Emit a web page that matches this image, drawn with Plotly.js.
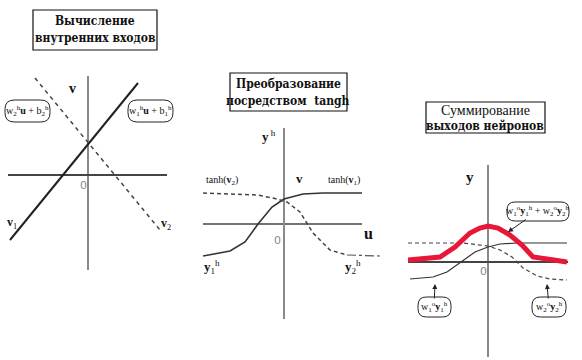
<!DOCTYPE html>
<html>
<head>
<meta charset="utf-8">
<script src="https://cdn.plot.ly/plotly-3.0.1.min.js"></script>
<style>html,body{margin:0;padding:0;background:#fff;}#chart{width:582px;height:360px;}</style>
</head>
<body>
<div id="chart"></div>
<script>
// ---- Panel 1: inner inputs (straight lines) ----
var p1_v1_u = [-3.9, 2.5];
var p1_v1_v = [-3.25, 4.6];
var p1_v2_u = [-2.65, 3.6];
var p1_v2_v = [4.85, -2.75];

// ---- Panel 2: tanh transform ----
var p2_y1_u = [-4.05, -2.7, -1.95, -1.3, -0.6, 0, 0.95, 1.95, 3.9];
var p2_y1_v = [-1.6, -1.35, -0.9, 0, 0.85, 1.25, 1.5, 1.55, 1.55];
var p2_y2_u = [-4.05, -1.35, -0.55, 0.15, 0.8, 1.45, 2.3, 3.15];
var p2_y2_v = [1.55, 1.45, 1.3, 1.1, 0.6, -0.45, -1.3, -1.55];
var p2_tail_u = [3.15, 4.8];
var p2_tail_v = [-1.55, -1.6];

// ---- Panel 3: sum of neuron outputs ----
var p3_sum_u = [-4, -2.4, -1.65, -0.9, -0.4, 0, 0.5, 1.1, 1.7, 2.25, 2.95, 3.95];
var p3_sum_v = [0.1, 0.25, 0.75, 1.45, 1.7, 1.8, 1.7, 1.35, 0.85, 0.25, 0.15, 0];
var p3_a_u = [-3.9, -2.75, -2.05, -1.3, -0.65, 0, 0.6, 1.45, 3.95];
var p3_a_v = [-0.85, -0.75, -0.5, 0.05, 0.5, 0.75, 0.9, 0.95, 0.95];
var p3_b_u = [-4, -1.25, 0, 0.6, 1.2, 1.75, 2.45, 3.1, 3.95];
var p3_b_v = [0.95, 0.95, 0.8, 0.6, 0.25, -0.3, -0.7, -0.85, -0.9];

// ---- Text ----
var titles = [
  ["Вычисление", "внутренних входов"],
  ["Преобразование", "посредством  tangh"],
  ["Суммирование", "выходов нейронов"]
];
var titleWeights = [[700, 700], [700, 700], [400, 700]];

var W = 582, H = 360;
function PX(x){ return x / W; }
function PY(y){ return 1 - y / H; }
var SERIF = "Liberation Serif";
var TITLEFONT = "DejaVu Serif Condensed, DejaVu Serif";

function pill(x0, y0, x1, y1){
  var r = (y1 - y0) * 0.42;
  function p(x, y){ return PX(x).toFixed(5) + "," + PY(y).toFixed(5); }
  var d = "M" + p(x0 + r, y0) + " L" + p(x1 - r, y0) + " Q" + p(x1, y0) + " " + p(x1, y0 + r) +
          " L" + p(x1, y1 - r) + " Q" + p(x1, y1) + " " + p(x1 - r, y1) +
          " L" + p(x0 + r, y1) + " Q" + p(x0, y1) + " " + p(x0, y1 - r) +
          " L" + p(x0, y0 + r) + " Q" + p(x0, y0) + " " + p(x0 + r, y0) + " Z";
  return {type: "path", xref: "paper", yref: "paper", path: d, line: {color: "#222", width: 1}};
}
function rectP(x0, y0, x1, y1){
  return {type: "rect", xref: "paper", yref: "paper", x0: PX(x0), x1: PX(x1), y0: PY(y1), y1: PY(y0),
          line: {color: "#111", width: 1.2}};
}

var traces = [
  {x: p1_v1_u, y: p1_v1_v, xaxis: "x", yaxis: "y", mode: "lines", line: {color: "#222", width: 2}},
  {x: p1_v2_u, y: p1_v2_v, xaxis: "x", yaxis: "y", mode: "lines", line: {color: "#444", width: 1.5, dash: "4px,4px"}},
  {x: p2_y1_u, y: p2_y1_v, xaxis: "x2", yaxis: "y2", mode: "lines", line: {color: "#333", width: 1.6}},
  {x: p2_y2_u, y: p2_y2_v, xaxis: "x2", yaxis: "y2", mode: "lines", line: {color: "#444", width: 1.5, dash: "4px,3px"}},
  {x: p2_tail_u, y: p2_tail_v, xaxis: "x2", yaxis: "y2", mode: "lines", line: {color: "#555", width: 1.2, dash: "dashdot"}},
  {x: p3_a_u, y: p3_a_v, xaxis: "x3", yaxis: "y3", mode: "lines", line: {color: "#333", width: 1.2}},
  {x: p3_b_u, y: p3_b_v, xaxis: "x3", yaxis: "y3", mode: "lines", line: {color: "#444", width: 1.2, dash: "4px,3px"}},
  {x: p3_sum_u, y: p3_sum_v, xaxis: "x3", yaxis: "y3", mode: "lines", line: {color: "#e8173a", width: 5}}
];

function xax(px0, px1, r){
  return {domain: [PX(px0), PX(px1)], range: r, showgrid: false, showticklabels: false, ticks: "",
          showline: false, zeroline: true, zerolinecolor: "#8a8a8a", zerolinewidth: 1.5, fixedrange: true};
}
function yax(py0, py1, r, anchor, zl){
  return {domain: [PY(py1), PY(py0)], range: r, showgrid: false, showticklabels: false, ticks: "",
          showline: false, zeroline: zl, zerolinecolor: "#444", zerolinewidth: 1.5, fixedrange: true, anchor: anchor};
}

var shapes = [
  rectP(33, 10, 157, 50), rectP(230, 73, 347, 111), rectP(426, 102, 545, 133),
  pill(5, 100, 50, 122), pill(128, 100, 173, 122),
  pill(507, 202, 569, 221), pill(418, 297, 451, 317), pill(532, 297, 566, 317),
  {type: "line", xref: "x2", yref: "y2", x0: -4.05, x1: 3.9, y0: 0, y1: 0, line: {color: "#444", width: 1.5}, layer: "below"}
];

function lab(text, x, y, xr, yr, size, color, family, weight){
  return {text: text, x: x, y: y, xref: xr, yref: yr, showarrow: false, xanchor: "center", yanchor: "middle",
          font: {family: family || SERIF, size: size, color: color || "#111", weight: weight || 400}};
}
function tlab(text, px, py, size, weight){
  return lab(text, PX(px), PY(py), "paper", "paper", size, null, weight === 700 ? TITLEFONT : SERIF, weight);
}
function plab(text, px, py, size){
  return lab(text, PX(px), PY(py), "paper", "paper", size);
}

var annotations = [
  tlab(titles[0][0], 95, 21, 12, titleWeights[0][0]), tlab(titles[0][1], 95, 38, 12, titleWeights[0][1]),
  tlab(titles[1][0], 288, 84, 12, titleWeights[1][0]), tlab(titles[1][1], 288, 101, 12, titleWeights[1][1]),
  tlab(titles[2][0], 485, 110, 14, titleWeights[2][0]), tlab(titles[2][1], 485, 126, 12, titleWeights[2][1]),
  // panel 1
  lab("<b>v</b>", -0.8, 4.35, "x", "y", 14),
  lab("0", -0.25, -0.5, "x", "y", 11, "#888", "DejaVu Sans"),
  lab("<b>u</b>", 4.2, -0.8, "x", "y", 16),
  lab("<b>v</b><sub>1</sub>", -3.8, -2.4, "x", "y", 12),
  lab("<b>v</b><sub>2</sub>", 3.9, -2.45, "x", "y", 12),
  plab("w<sub>2</sub><sup>h</sup><b>u</b> + b<sub>2</sub><sup>h</sup>", 27.5, 111, 10),
  plab("w<sub>1</sub><sup>h</sup><b>u</b> + b<sub>1</sub><sup>h</sup>", 150.5, 111, 10),
  // panel 2
  lab("<b>y</b><sup> h</sup>", -0.75, 4.4, "x2", "y2", 13),
  lab("tanh(<b>v</b><sub>2</sub>)", -3.1, 2.2, "x2", "y2", 10),
  lab("<b>v</b>", 0.75, 2.3, "x2", "y2", 13),
  lab("tanh(<b>v</b><sub>1</sub>)", 3.0, 2.2, "x2", "y2", 10),
  lab("0", -0.35, -0.8, "x2", "y2", 11, "#888", "DejaVu Sans"),
  lab("<b>u</b>", 4.2, -0.45, "x2", "y2", 16),
  lab("<b>y</b><sub>1</sub><sup>h</sup>", -3.6, -2.15, "x2", "y2", 13),
  lab("<b>y</b><sub>2</sub><sup>h</sup>", 3.45, -2.15, "x2", "y2", 13),
  // panel 3
  lab("<b>y</b>", -0.9, 4.25, "x3", "y3", 15),
  lab("0", -0.25, -0.45, "x3", "y3", 11, "#888", "DejaVu Sans"),
  lab("<b>u</b>", 4.3, -0.45, "x3", "y3", 16),
  {text: "w<sub>1</sub><sup>o</sup><b>y</b><sub>1</sub><sup>h</sup> + w<sub>2</sub><sup>o</sup><b>y</b><sub>2</sub><sup>h</sup>",
   x: 1.0, y: 1.5, xref: "x3", yref: "y3", ax: 30, ay: -21, showarrow: true, arrowhead: 2, arrowsize: 1,
   arrowwidth: 1, arrowcolor: "#222", font: {family: SERIF, size: 10, color: "#111"}},
  {text: "w<sub>1</sub><sup>o</sup><b>y</b><sub>1</sub><sup>h</sup>",
   x: -2.65, y: -1.1, xref: "x3", yref: "y3", ax: -1, ay: 23, showarrow: true, arrowhead: 2, arrowsize: 1,
   arrowwidth: 1, arrowcolor: "#222", font: {family: SERIF, size: 10, color: "#111"}},
  {text: "w<sub>2</sub><sup>o</sup><b>y</b><sub>2</sub><sup>h</sup>",
   x: 2.95, y: -1.1, xref: "x3", yref: "y3", ax: 2, ay: 23, showarrow: true, arrowhead: 2, arrowsize: 1,
   arrowwidth: 1, arrowcolor: "#222", font: {family: SERIF, size: 10, color: "#111"}}
];

var layout = {
  width: W, height: H, autosize: false, showlegend: false,
  margin: {l: 0, r: 0, t: 0, b: 0, pad: 0},
  paper_bgcolor: "#fff", plot_bgcolor: "rgba(0,0,0,0)",
  font: {family: SERIF},
  xaxis: xax(8, 167, [-4, 3.95]),
  yaxis: yax(76, 270, [-4.75, 4.95], "x", true),
  xaxis2: xax(203, 380, [-4.05, 4.8]),
  yaxis2: yax(128, 319, [-4.75, 4.8], "x2", false),
  xaxis3: xax(408, 568, [-4, 4]),
  yaxis3: yax(165, 357, [-4.75, 4.85], "x3", true),
  shapes: shapes,
  annotations: annotations
};
layout.xaxis2.anchor = "y2";
layout.xaxis3.anchor = "y3";
layout.xaxis.anchor = "y";

Plotly.newPlot("chart", traces, layout, {staticPlot: true, displayModeBar: false});
</script>
</body>
</html>
